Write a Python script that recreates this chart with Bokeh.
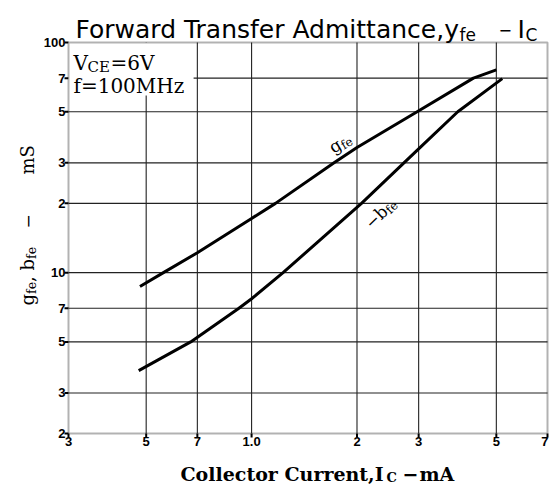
import math
from bokeh.plotting import figure
from bokeh.models import Range1d, Label, BoxAnnotation
from bokeh.core.properties import value
from bokeh.embed import file_html
from bokeh.resources import INLINE

# ---- data (log-log) ----
gfe_x = [0.48, 0.56, 0.7, 1.0, 1.17, 1.72, 2.0, 2.97, 4.3, 5.0]
gfe_y = [8.7, 10.0, 12.2, 17.2, 20.0, 30.0, 35.0, 50.0, 70.0, 76.0]
bfe_x = [0.476, 0.67, 0.92, 1.0, 1.23, 2.06, 2.7, 3.0, 3.88, 5.2]
bfe_y = [3.75, 5.0, 7.0, 7.7, 10.0, 20.0, 29.6, 34.5, 50.0, 69.7]

x_ticks = [0.3, 0.5, 0.7, 1, 2, 3, 5, 7]
x_tick_labels = ["3", "5", "7", "1.0", "2", "3", "5", "7"]
y_ticks = [2, 3, 5, 7, 10, 20, 30, 50, 70, 100]
y_tick_labels = ["2", "3", "5", "7", "10", "2", "3", "5", "7", "100"]
x_grid = [0.5, 0.7, 1, 2, 3, 5]
y_grid = [3, 5, 7, 10, 20, 30, 50, 70]

X0, X1 = 0.3, 7
Y0, Y1 = 2, 100

# ---- layout: the plotting frame spans the whole canvas; the data box
# (X0..X1, Y0..Y1) is placed at these pixel positions ----
W, H = 549, 485
FL, FR, FT, FB = 68, 547, 42, 433
kx = (FR - FL) / math.log10(X1 / X0)
ky = (FB - FT) / math.log10(Y1 / Y0)
x_lo = X0 * 10 ** (-FL / kx)
x_hi = X1 * 10 ** ((W - FR) / kx)
y_hi = Y1 * 10 ** (FT / ky)
y_lo = Y0 * 10 ** (-(H - FB) / ky)

p = figure(width=W, height=H, x_axis_type="log", y_axis_type="log",
           x_range=Range1d(x_lo, x_hi), y_range=Range1d(y_lo, y_hi),
           output_backend="svg", toolbar_location=None,
           x_axis_location=None, y_axis_location=None,
           min_border=0)
p.grid.visible = False
p.outline_line_color = None
p.background_fill_color = "white"
p.border_fill_color = "white"

# grid
p.segment(x0=x_grid, y0=[Y0] * len(x_grid), x1=x_grid, y1=[Y1] * len(x_grid),
          line_color="#222222", line_width=1.1)
p.segment(x0=[X0] * len(y_grid), y0=y_grid, x1=[X1] * len(y_grid), y1=y_grid,
          line_color="#222222", line_width=1.1)

# ticks (short, outward)
p.ray(x=[X0] * len(y_ticks), y=y_ticks, length=4, length_units="screen",
      angle=math.pi, line_color="black", line_width=2)
p.ray(x=x_ticks, y=[Y0] * len(x_ticks), length=4, length_units="screen",
      angle=-math.pi / 2, line_color="black", line_width=2)

# curves
p.line(gfe_x, gfe_y, line_color="black", line_width=3, line_join="round")
p.line(bfe_x, bfe_y, line_color="black", line_width=3, line_join="round")

# white box behind the condition text (top-left)
p.add_layout(BoxAnnotation(left=X0, right=0.683, bottom=58.9, top=Y1,
                           fill_color="white", fill_alpha=1.0, line_alpha=0))
# plot frame
p.add_layout(BoxAnnotation(left=X0, right=X1, bottom=Y0, top=Y1,
                           fill_alpha=0, line_color="black", line_width=2))

# tick labels
TICK_FONT = dict(text_font=value("Liberation Sans"), text_font_style="bold",
                 text_font_size="13px", text_color="black")
p.text(x=[X0] * len(y_ticks), y=y_ticks, text=y_tick_labels, x_offset=-3,
       text_align="right", text_baseline="middle", **TICK_FONT)
p.text(x=x_ticks[:-1], y=[Y0] * (len(x_ticks) - 1), text=x_tick_labels[:-1],
       y_offset=3, text_align="center", text_baseline="top", **TICK_FONT)
p.text(x=x_ticks[-1:], y=[Y0], text=x_tick_labels[-1:], x_offset=1,
       y_offset=3, text_align="right", text_baseline="top", **TICK_FONT)


# ---- text helpers (page coordinates, baseline-left) ----
def put(text, px, py, size, font, style="normal", angle=0.0):
    p.add_layout(Label(x=X0, y=Y1, x_offset=px - FL, y_offset=FT - py,
                       text=text, text_font=font, text_font_size=f"{size}px",
                       text_font_style=style, angle=angle,
                       text_align="left", text_baseline="alphabetic",
                       text_color="black"))


SERIF_W = {'g': .640, 'f': .370, 'e': .592, 'b': .640, '−': .838, ' ': .318,
           ',': .318, 'm': .948, 'S': .685}


def run(pieces, px, py, angle, font="DejaVu Serif", style="normal"):
    ca, sa = math.cos(angle), math.sin(angle)
    for text, size, shift in pieces:
        put(text, px + shift * sa, py + shift * ca, size, font, style, angle)
        w = sum(SERIF_W.get(c, 0.6) for c in text) * size
        px += w * ca
        py -= w * sa


SERIF = "DejaVu Serif"
SANS = "DejaVu Sans"

# title
put("Forward Transfer Admittance,y", 75, 29, 25, SANS)
put("fe", 459, 34, 17, SANS)
put("−", 498, 29, 16, SANS)
put("I", 517, 29, 25, SANS)
put("C", 525, 34, 17, SANS)

# x-axis label
put("Collector Current,I", 180, 473, 19, SERIF, "bold")
put("C", 386, 477, 13, SERIF, "bold")
put("−", 402, 473, 19, SERIF, "bold")
put("mA", 419, 473, 19, SERIF, "bold")

# y-axis label (rotated)
run([("g", 18, 0), ("fe", 12.5, 4), (", b", 18, 0), ("fe", 12.5, 4)], 27, 305, math.pi / 2)
put("−", 27, 228, 17, SERIF, "normal", math.pi / 2)
put("mS", 27, 174, 18, SERIF, "normal", math.pi / 2)

# condition box text
put("V", 73, 62, 20, SERIF)
put("CE", 87, 66, 15, SERIF)
put("=6V", 110, 62, 20, SERIF)
put("f=100MHz", 73, 85, 20, SERIF)

# curve labels
run([("g", 17, 0), ("fe", 12, 4)], 330, 148, math.radians(31))
run([("−", 16, 0), ("b", 17, 0), ("fe", 12, 4)], 367, 225, math.radians(44))

open("out.html", "w").write(file_html(p, INLINE))
